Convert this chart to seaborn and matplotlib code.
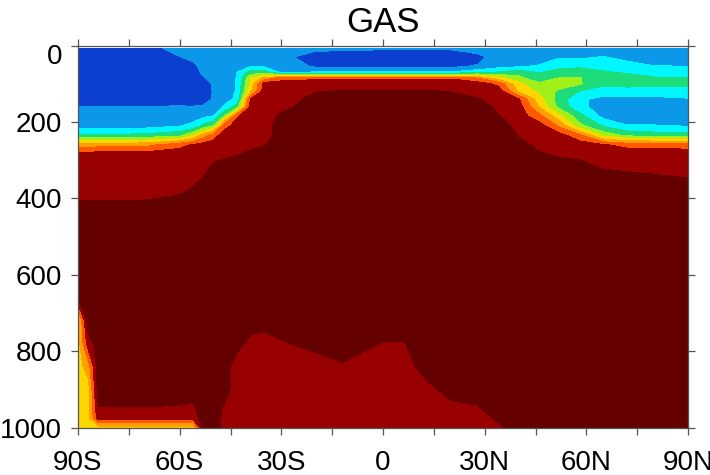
import numpy as np
import matplotlib
matplotlib.use("Agg")
import matplotlib.pyplot as plt
import matplotlib.transforms as mtransforms
import seaborn as sns

sns.set_theme(style="white")
plt.rcParams["font.family"] = ["Liberation Sans", "DejaVu Sans"]

# %%
# latitude nodes (deg, negative = south) and pressure nodes (hPa)
lats = [-90, -87, -84, -70, -60, -56, -53, -50, -47, -43, -39, -35, -30, -20, -12,
        0, 6, 13, 20, 28, 34, 40, 46, 52, 58, 65, 72, 80, 90]
pres = [7, 30, 55, 70, 85, 100, 120, 140, 160, 185, 210, 235, 260, 285, 320, 360,
        400, 450, 550, 650, 720, 780, 840, 900, 950, 975, 1000]

# one profile per latitude (top -> bottom), value = colour class 0..9
gas = [
    [0, 0, 0, 0, 0, 0, 0, 0.2, 0.52, 1, 1, 2.6, 6, 8, 8, 8, 8.45, 9, 9, 9, 5, 5, 5, 5, 5, 5, 5],
    [0, 0, 0, 0, 0, 0, 0, 0.2, 0.52, 1, 1.05, 2.6, 6, 8, 8, 8, 8.45, 9, 9, 9, 9, 8, 6, 5, 5, 5, 5],
    [0, 0, 0, 0, 0, 0, 0, 0.2, 0.52, 1, 1.05, 2.6, 6.1, 8, 8, 8, 8.45, 9, 9, 9, 9, 9, 9, 9, 8.45, 8, 5],
    [0, 0, 0, 0, 0, 0, 0, 0.15, 0.52, 1, 1.1, 2.8, 6.2, 8, 8, 8.1, 8.45, 9, 9, 9, 9, 9, 9, 9, 8.45, 8, 5],
    [1, 0.45, 0, 0, 0, 0, 0, 0.1, 0.55, 1, 1.45, 3.2, 7.2, 8, 8, 8.2, 8.6, 9, 9, 9, 9, 9, 9, 9, 8.4, 8, 5],
    [1, 0.8, 0.2, 0, 0, 0, 0.1, 0.25, 0.52, 1.2, 1.7, 4.5, 7.6, 8, 8.1, 8.4, 8.8, 9, 9, 9, 9, 9, 9, 9, 8.3, 8, 5],
    [1, 1, 0.9, 0.7, 0.4, 0.2, 0.2, 0.3, 0.55, 1.3, 2.8, 6, 7.9, 8, 8.2, 8.7, 9, 9, 9, 9, 9, 9, 9, 9, 9, 9, 9],
    [1, 1, 1, 1, 0.9, 0.6, 0.55, 0.55, 0.8, 1.55, 3.5, 7, 8, 8.2, 8.7, 9, 9, 9, 9, 9, 9, 9, 9, 9, 9, 9, 9],
    [1, 1, 1, 1, 1, 1, 1, 1.1, 1.6, 3.45, 7, 8, 8, 8.3, 8.9, 9, 9, 9, 9, 9, 9, 9, 9, 9, 8.4, 8.3, 8.3],
    [1, 1, 1.1, 1.52, 1.55, 1.6, 1.6, 1.7, 3.0, 7.4, 8, 8, 8, 8.45, 9, 9, 9, 9, 9, 9, 9, 8.8, 8, 8, 8, 8, 8],
    [1, 1, 1.52, 3.0, 4.45, 4.8, 5.3, 7.7, 8, 8, 8, 8, 8.3, 8.7, 9, 9, 9, 9, 9, 9, 9, 8.2, 8, 8, 8, 8, 8],
    [1, 1, 1.4, 3.0, 5.8, 8, 8, 8, 8, 8, 8, 8, 8.45, 9, 9, 9, 9, 9, 9, 9, 9, 8, 8, 8, 8, 8, 8],
    [1, 0.8, 1, 1.3, 7, 8, 8, 8, 8.2, 8.7, 9, 9, 9, 9, 9, 9, 9, 9, 9, 9, 9, 8.4, 8, 8, 8, 8, 8],
    [0.75, 0, 0.4, 1.6, 7.3, 8, 8.45, 8.8, 9, 9, 9, 9, 9, 9, 9, 9, 9, 9, 9, 9, 9, 8.8, 8, 8, 8, 8, 8],
    [0.7, 0, 0.4, 1.6, 7.3, 8, 8.6, 9, 9, 9, 9, 9, 9, 9, 9, 9, 9, 9, 9, 9, 9, 9, 8.4, 8, 8, 8, 8],
    [0.6, 0, 0.35, 1.6, 7.4, 8, 8.6, 9, 9, 9, 9, 9, 9, 9, 9, 9, 9, 9, 9, 9, 9, 8.45, 8, 8, 8, 8, 8],
    [0.6, 0, 0.35, 1.6, 7.4, 8, 8.6, 9, 9, 9, 9, 9, 9, 9, 9, 9, 9, 9, 9, 9, 9, 8.45, 8, 8, 8, 8, 8],
    [0.6, 0, 0.35, 1.6, 7.4, 8, 8.6, 9, 9, 9, 9, 9, 9, 9, 9, 9, 9, 9, 9, 9, 9, 9, 9, 8.2, 8, 8, 8],
    [0.6, 0, 0.35, 1.6, 7.4, 8, 8.48, 8.9, 9, 9, 9, 9, 9, 9, 9, 9, 9, 9, 9, 9, 9, 9, 9, 8.9, 8.2, 8, 8],
    [1, 0.2, 0.6, 2.3, 6.5, 8, 8.2, 8.55, 9, 9, 9, 9, 9, 9, 9, 9, 9, 9, 9, 9, 9, 9, 9, 9, 8.4, 8, 8],
    [1, 1, 1.2, 2.6, 4.9, 7.2, 8.2, 8.2, 8.3, 8.55, 9, 9, 9, 9, 9, 9, 9, 9, 9, 9, 9, 9, 9, 9, 9, 8.7, 8.3],
    [1, 1, 1.45, 3.1, 3.8, 4.8, 5.3, 7.6, 8, 8, 8.2, 8.45, 8.8, 9, 9, 9, 9, 9, 9, 9, 9, 9, 9, 9, 9, 9, 9],
    [1, 1, 1.6, 2.45, 2.8, 3.7, 4.3, 4.9, 5.45, 6.9, 8, 8, 8.3, 8.6, 9, 9, 9, 9, 9, 9, 9, 9, 9, 9, 9, 9, 9],
    [1, 1.4, 2.3, 2.8, 3.55, 4.0, 3.3, 3.0, 3.2, 4.8, 6.3, 7.9, 8, 8.4, 8.9, 9, 9, 9, 9, 9, 9, 9, 9, 9, 9, 9, 9],
    [1, 1.3, 2.4, 2.9, 3.55, 3.6, 2.45, 1.7, 1.8, 2.9, 3.8, 6.8, 8, 8.3, 8.8, 9, 9, 9, 9, 9, 9, 9, 9, 9, 9, 9, 9],
    [1, 1.55, 2.2, 2.6, 2.9, 2.7, 2.0, 1.2, 1.0, 1.2, 2.4, 4.2, 7.6, 8, 8.45, 9, 9, 9, 9, 9, 9, 9, 9, 9, 9, 9, 9],
    [1, 1.2, 1.9, 2.4, 2.9, 2.8, 2.1, 1.1, 0.9, 1.0, 1.55, 3.3, 7.2, 8.1, 8.4, 8.8, 9, 9, 9, 9, 9, 9, 9, 9, 9, 9, 9],
    [1, 1, 1.55, 2.05, 2.6, 2.7, 2.1, 1.2, 0.9, 1.0, 1.55, 3.0, 7.2, 8.1, 8.35, 8.7, 9, 9, 9, 9, 9, 9, 9, 9, 9, 9, 9],
    [1, 1, 1.52, 2.0, 2.6, 2.7, 2.2, 1.4, 1.0, 1.0, 1.45, 3.0, 7.0, 8.1, 8.3, 8.6, 9, 9, 9, 9, 9, 9, 9, 9, 9, 9, 9],
]

band_colors = ["#0b3fd0", "#0b98e8", "#00f7ff", "#1fdc7a", "#a2f01a",
               "#ffd700", "#ffa000", "#ff5a00", "#990000", "#640000"]

lat_ticks = [-90, -60, -30, 0, 30, 60, 90]
lat_labels = ["90S", "60S", "30S", "0", "30N", "60N", "90N"]
pres_ticks = [0, 200, 400, 600, 800, 1000]

# %%
field = np.array(gas).T
levels = np.arange(-0.5, 10, 1)

fig = plt.figure(figsize=(7.1, 4.75), dpi=100)
ax = fig.add_axes([78 / 710, 47.4 / 475, 610 / 710, 382 / 475])
ax.contourf(lats, pres, field, levels=levels, colors=sns.color_palette(band_colors))

ax.set_xlim(-90, 90)
ax.set_ylim(1000, 0)
ax.set_xticks(lat_ticks)
ax.set_xticklabels(lat_labels)
ax.set_xticks(np.arange(-75, 90, 30), minor=True)
ax.set_yticks(pres_ticks)
ax.set_yticklabels([str(p) for p in pres_ticks])

ax.tick_params(which="both", direction="out", length=5, width=0.9, color="#555555",
               bottom=True, left=True, top=True, right=True, labelsize=20,
               labelcolor="black")
ax.tick_params(axis="x", pad=11)
ax.tick_params(axis="y", pad=6.5)
for s in ax.spines.values():
    s.set_color("#555555")
    s.set_linewidth(0.9)

# the "0" label sits a little lower than its tick in the original
lab0 = ax.get_yticklabels()[0]
lab0.set_transform(lab0.get_transform()
                   + mtransforms.ScaledTranslation(0, -6 / 72, fig.dpi_scale_trans))

ax.set_title("GAS", fontsize=25, color="black", pad=10)

fig.savefig("out.png", dpi=100)
